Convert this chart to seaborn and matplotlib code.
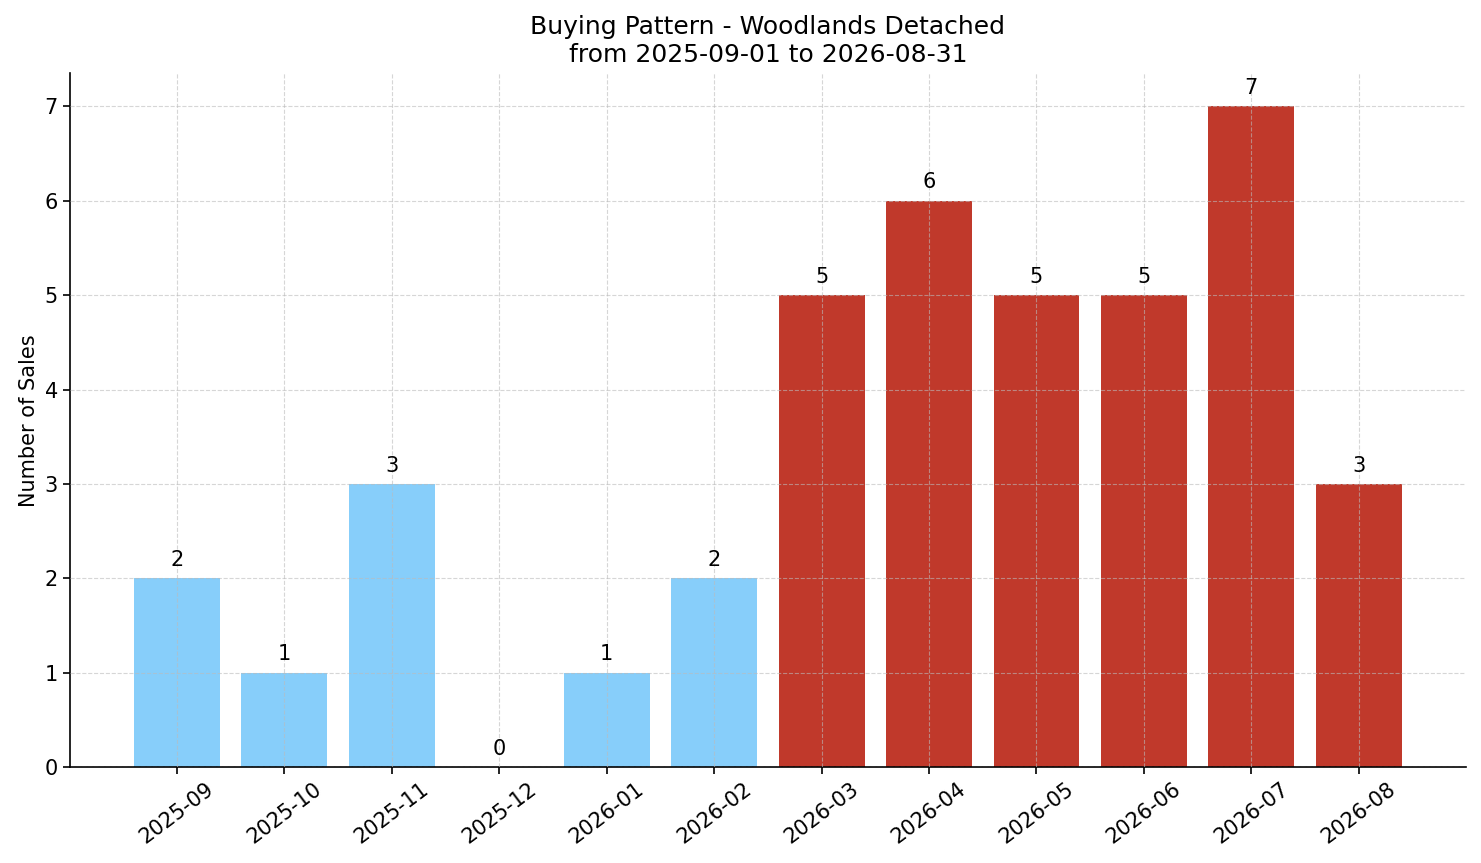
import pandas as pd
import matplotlib
matplotlib.use('Agg')
import matplotlib.pyplot as plt
import seaborn as sns

months = ['2025-09', '2025-10', '2025-11', '2025-12', '2026-01', '2026-02',
          '2026-03', '2026-04', '2026-05', '2026-06', '2026-07', '2026-08']
sales = [2, 1, 3, 0, 1, 2, 5, 6, 5, 5, 7, 3]
groups = ['low', 'low', 'low', 'low', 'low', 'low',
          'high', 'high', 'high', 'high', 'high', 'high']

df = pd.DataFrame({'month': months, 'sales': sales, 'group': groups})

sns.set_style('ticks')
plt.rcParams['font.family'] = ['DejaVu Sans']
plt.rcParams['text.color'] = 'black'
plt.rcParams['axes.labelcolor'] = 'black'
plt.rcParams['xtick.color'] = 'black'
plt.rcParams['ytick.color'] = 'black'
plt.rcParams['axes.edgecolor'] = 'black'

fig, ax = plt.subplots(figsize=(14.81, 8.63), dpi=100)
sns.barplot(data=df, x='month', y='sales', hue='group',
            palette={'low': '#87CEFA', 'high': '#C0392B'},
            dodge=False, legend=False, width=0.8, saturation=1,
            linewidth=0, ax=ax)

# 柱顶数值
for i, v in enumerate(sales):
    ax.annotate(str(v), (i, v), xytext=(0, 6), textcoords='offset points',
                ha='center', va='bottom', fontsize=15)

ax.set_xlim(-1, 12)
ax.set_ylim(0, 7.35)
ax.set_title('Buying Pattern - Woodlands Detached\nfrom 2025-09-01 to 2026-08-31',
             fontsize=18, pad=8)
ax.set_xlabel('')
ax.set_ylabel('Number of Sales', fontsize=15)
ax.tick_params(axis='both', labelsize=15, length=5, width=1.2)
plt.setp(ax.get_xticklabels(), rotation=37)
for s in ax.spines.values():
    s.set_linewidth(1.2)
ax.grid(True, linestyle='--', linewidth=0.8, color='#bbbbbb', alpha=0.6)
ax.set_axisbelow(False)
sns.despine(ax=ax)
fig.subplots_adjust(left=0.047, right=0.99, top=0.915, bottom=0.111)
fig.savefig('out.png', dpi=100)
